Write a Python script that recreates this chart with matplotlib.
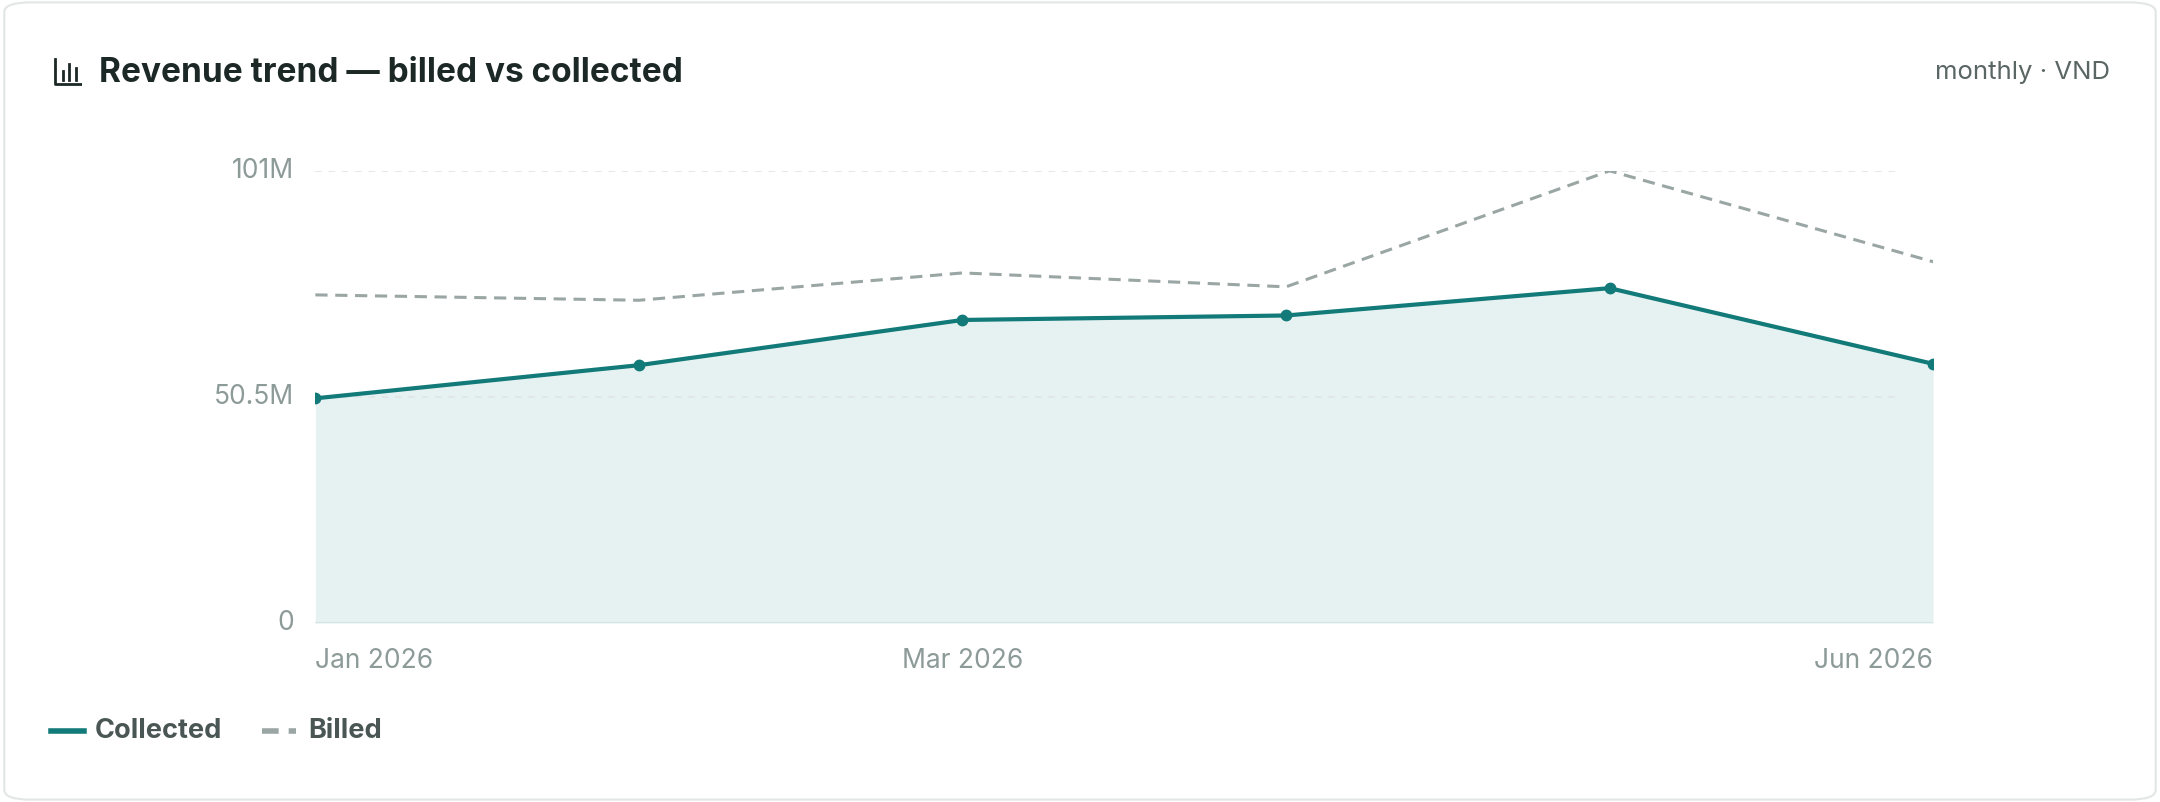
import matplotlib.pyplot as plt
from matplotlib.patches import FancyBboxPatch
from matplotlib.lines import Line2D

plt.rcParams['font.family'] = ['Inter', 'DejaVu Sans']

months = ['Jan 2026', 'Feb 2026', 'Mar 2026', 'Apr 2026', 'May 2026', 'Jun 2026']
collected = [50.2, 57.6, 67.7, 68.7, 74.8, 57.9]   # millions VND
billed = [73.3, 72.1, 78.2, 75.1, 101.0, 80.7]
yticks = [0, 50.5, 101]
ytick_labels = ['0', '50.5M', '101M']
shown_months = {0: 'left', 2: 'center', 5: 'right'}

teal = '#127a78'
grey = '#9aa6a4'
label_col = '#8c9a98'

fig = plt.figure(figsize=(21.6, 8.02), dpi=100)
fig.patch.set_facecolor('white')
card = FancyBboxPatch((0.002, 0.003), 0.996, 0.994, boxstyle='round,pad=0,rounding_size=0.012',
                      transform=fig.transFigure, facecolor='white', edgecolor='#e2e6e5', lw=1.5,
                      zorder=-10)
fig.patches.append(card)

ax = fig.add_axes([0.146, 0.223, 0.749, 0.564])
ax.patch.set_alpha(0)
x = list(range(len(months)))
ax.fill_between(x, collected, 0, color='#e6f2f1', lw=0)
ax.hlines([50.5, 101], 0, 4.89, colors='#dfe5e4', linestyles=(0, (4, 4)), lw=1.2)
ax.axhline(0, color='#d5e3e2', lw=1.5)
ax.plot(x, billed, color=grey, lw=2.2, ls=(0, (4, 2.5)))
ax.plot(x, collected, color=teal, lw=3, marker='o', ms=7.5)
ax.set_xlim(0, 5)
ax.set_ylim(0, 101)
ax.axis('off')

for v, t in zip(yticks, ytick_labels):
    ax.text(-0.065, v, t, ha='right', va='center', fontsize=19, color=label_col)
for i, ha in shown_months.items():
    ax.text(i, -8.5, months[i], ha=ha, va='center', fontsize=19, color=label_col)

# header
fig.text(0.046, 0.909, 'Revenue trend — billed vs collected', fontsize=24, fontweight='bold',
         color='#1c2826', va='center')
fig.text(0.977, 0.909, 'monthly · VND', fontsize=18.5, color='#5a6664', va='center', ha='right')
# small chart icon
ic = fig.add_axes([0.0245, 0.892, 0.0135, 0.036])
ic.plot([0, 0, 1], [1, 0, 0], color='#1c2826', lw=2)
for bx, h in zip([0.3, 0.55, 0.8], [0.45, 0.85, 0.6]):
    ic.plot([bx, bx], [0.18, 0.18 + h * 0.75], color='#1c2826', lw=2)
ic.set_xlim(-0.1, 1.05)
ic.set_ylim(-0.1, 1.05)
ic.axis('off')

# legend
fig.add_artist(Line2D([0.0235, 0.039], [0.088, 0.088], color=teal, lw=4, transform=fig.transFigure))
fig.text(0.044, 0.088, 'Collected', fontsize=19.5, fontweight='bold', color='#4a5654', va='center')
fig.add_artist(Line2D([0.1215, 0.137], [0.088, 0.088], color=grey, lw=4, ls=(0, (3, 1.8)),
                      transform=fig.transFigure))
fig.text(0.1425, 0.088, 'Billed', fontsize=19.5, fontweight='bold', color='#4a5654', va='center')

fig.savefig('out.png', dpi=100, facecolor='white')
